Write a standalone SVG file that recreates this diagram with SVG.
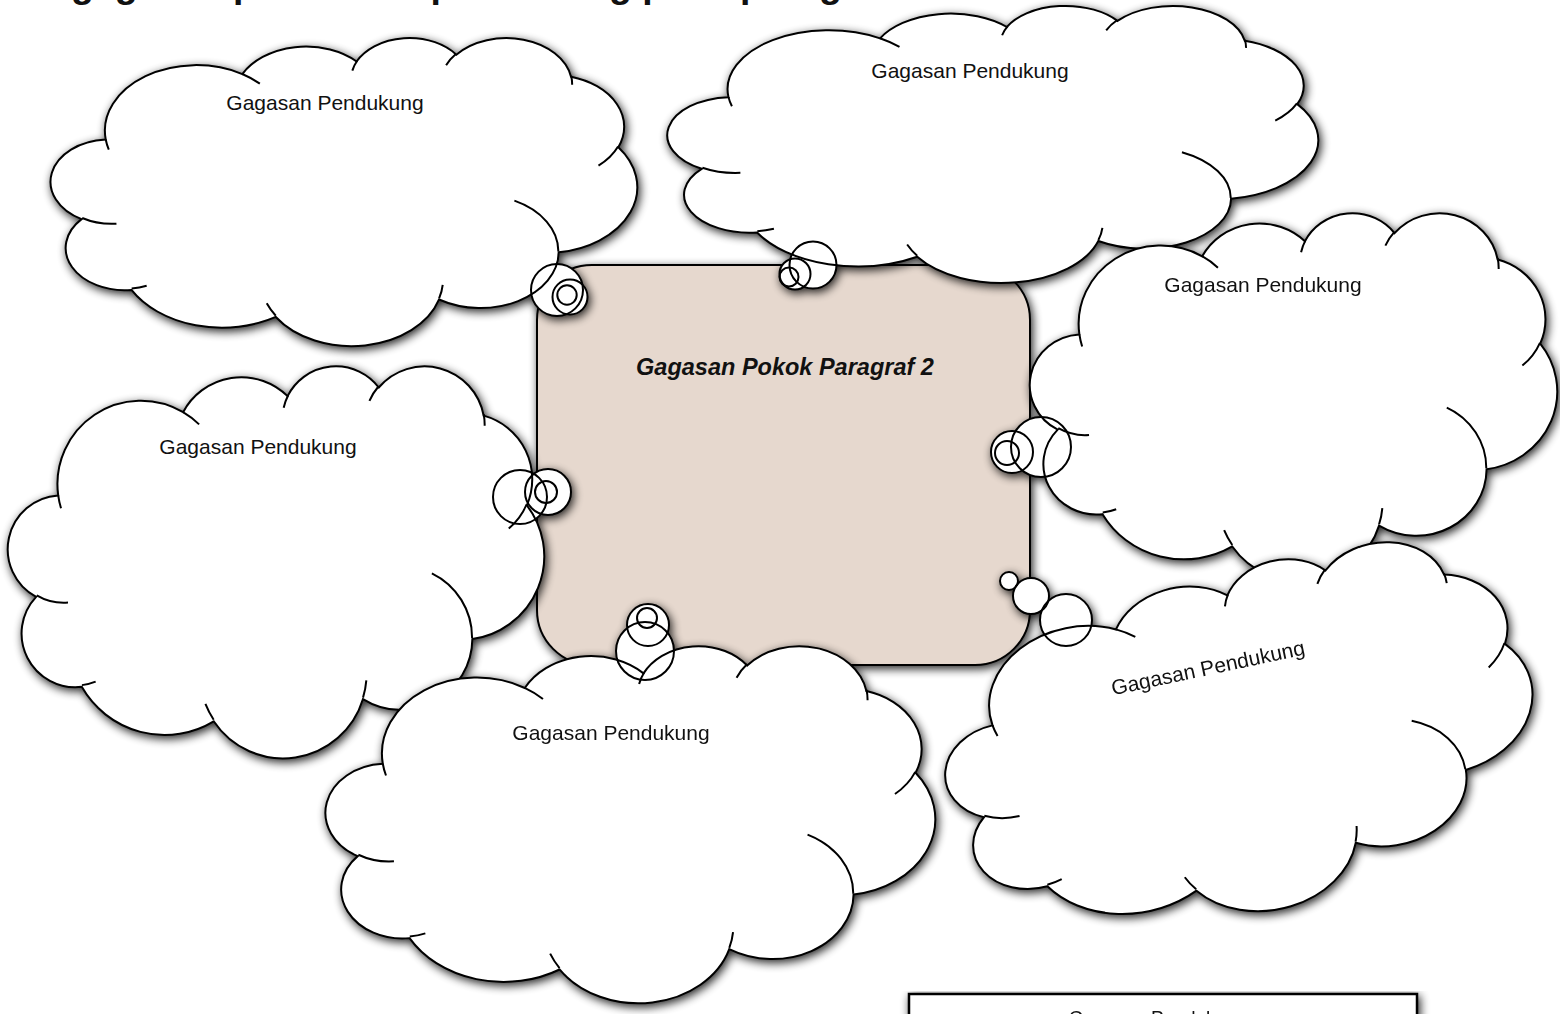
<svg xmlns="http://www.w3.org/2000/svg" xmlns:xlink="http://www.w3.org/1999/xlink" width="1560" height="1014" viewBox="0 0 1560 1014">
<style>
.lbl{font-family:"Liberation Sans",Arial,sans-serif;font-size:21px;fill:#111;text-anchor:middle}
.main{font-family:"Liberation Sans",Arial,sans-serif;font-size:23.5px;font-weight:bold;font-style:italic;fill:#111;text-anchor:middle}
.title{font-family:"Liberation Sans",Arial,sans-serif;font-size:37.4px;font-weight:bold;fill:#111}
.fo{fill:#fff;stroke:none}
.so{fill:none;stroke:#000;stroke-width:2}
</style>
<defs>
<filter id="sh" x="-15%" y="-15%" width="130%" height="130%">
<feGaussianBlur in="SourceAlpha" stdDeviation="5"/>
<feOffset dx="2" dy="3" result="b"/>
<feComponentTransfer><feFuncA type="linear" slope="0.85"/></feComponentTransfer>
<feMerge><feMergeNode/><feMergeNode in="SourceGraphic"/></feMerge>
</filter>
<path id="cl" vector-effect="non-scaling-stroke" d="M39,143.7 A67.53,91.9 0 0 1 140.05,52.02 A53.33,72.67 0 0 1 224.56,34.32 A43.65,59.45 0 0 1 298.33,24.81 A48.57,65.95 0 0 1 383.18,55.76 A53.33,72.73 0 0 1 418.18,154.6 A67.75,92.2 0 0 1 374.04,302.03 A57.85,78.67 0 0 1 285.56,368.13 A67.52,92.15 0 0 1 164.81,392.64 A77.2,105.43 0 0 1 58.05,354.7 A43.6,59.18 0 0 1 21.14,255.48 A43.45,59.45 0 0 1 39,143.7Z"/>
<path id="ci" vector-effect="non-scaling-stroke" d="M46.93,261.77 A43.45,59.45 0 0 1 21.6,253.8 M69.28,348.99 A43.6,59.18 0 0 1 58.2,352.8 M164.78,390.9 A67.52,92.15 0 0 1 158.1,373.5 M288.27,347.51 A67.52,92.15 0 0 1 285.6,366.6 M341.29,229.54 A57.85,78.67 0 0 1 373.8,300.9 M417.98,153.54 A53.33,72.73 0 0 1 403.5,180.3 M383.24,54.26 A48.57,65.95 0 0 1 384,66.9 M290.78,39.52 A48.57,65.95 0 0 1 298.2,23.41 M221.41,47.2 A43.65,59.45 0 0 1 225,33.3 M140,51.92 A67.53,91.9 0 0 1 153,65.41 M41.27,157.89 A67.53,91.9 0 0 1 39,143.7"/>
</defs>

<text class="title" x="71" y="-3">gagasan pokok dan pendukung pada paragraf</text>

<g id="connectors"></g>

<g id="main-node">
<rect x="537" y="265" width="493" height="400" rx="55" ry="55" fill="#e6d8ce" stroke="#000" stroke-width="2" filter="url(#sh)"/>
<text class="main" x="785" y="375">Gagasan Pokok Paragraf 2</text>
</g>

<g id="cloud-a">
<g filter="url(#sh)">
<use xlink:href="#cl" class="fo" transform="translate(53,37) scale(1.3519,0.7130)"/>
<g class="fo"><circle cx="557" cy="290" r="26"/><circle cx="570" cy="297" r="17.5"/><circle cx="567" cy="295" r="9.7"/></g>
<g class="so" transform="translate(53,37) scale(1.3519,0.7130)"><use xlink:href="#cl"/><use xlink:href="#ci"/></g>
<g class="so"><circle cx="557" cy="290" r="26"/><circle cx="570" cy="297" r="17.5"/><circle cx="567" cy="295" r="9.7"/></g>
</g>
<text class="lbl" x="325" y="110">Gagasan Pendukung</text>
</g>

<g id="cloud-d">
<g filter="url(#sh)">
<use xlink:href="#cl" class="fo" transform="translate(10,365) scale(1.2361,0.9074)"/>
<g class="fo"><circle cx="520" cy="497" r="27"/><circle cx="548" cy="492" r="23"/><circle cx="546" cy="492" r="11"/></g>
<g class="so" transform="translate(10,365) scale(1.2361,0.9074)"><use xlink:href="#cl"/><use xlink:href="#ci"/></g>
<g class="so"><circle cx="520" cy="497" r="27"/><circle cx="548" cy="492" r="23"/><circle cx="546" cy="492" r="11"/></g>
</g>
<text class="lbl" x="258" y="454">Gagasan Pendukung</text>
</g>

<g id="cloud-e">
<g filter="url(#sh)">
<use xlink:href="#cl" class="fo" transform="translate(328,645) scale(1.4051,0.8264)"/>
<g class="fo"><circle cx="645" cy="651" r="29"/><circle cx="648" cy="625" r="21"/><circle cx="647" cy="618" r="10"/></g>
<g class="so" transform="translate(328,645) scale(1.4051,0.8264)"><use xlink:href="#cl"/><use xlink:href="#ci"/></g>
<g class="so"><circle cx="645" cy="651" r="29"/><circle cx="648" cy="625" r="21"/><circle cx="647" cy="618" r="10"/></g>
</g>
<text class="lbl" x="611" y="740">Gagasan Pendukung</text>
</g>

<g id="cloud-b">
<g filter="url(#sh)">
<use xlink:href="#cl" class="fo" transform="translate(670,5) scale(1.5,0.6412)"/>
<g class="fo"><circle cx="813" cy="265" r="23.5"/><circle cx="795" cy="274" r="15.5"/><circle cx="789" cy="277" r="9.5"/></g>
<g class="so" transform="translate(670,5) scale(1.5,0.6412)"><use xlink:href="#cl"/><use xlink:href="#ci"/></g>
<g class="so"><circle cx="813" cy="265" r="23.5"/><circle cx="795" cy="274" r="15.5"/><circle cx="789" cy="277" r="9.5"/></g>
</g>
<text class="lbl" x="970" y="78">Gagasan Pendukung</text>
</g>

<g id="cloud-c">
<g filter="url(#sh)">
<use xlink:href="#cl" class="fo" transform="translate(1032,212) scale(1.2153,0.8519)"/>
<g class="fo"><circle cx="1041" cy="447" r="30"/><circle cx="1012" cy="452" r="21"/><circle cx="1007" cy="453" r="12"/></g>
<g class="so" transform="translate(1032,212) scale(1.2153,0.8519)"><use xlink:href="#cl"/><use xlink:href="#ci"/></g>
<g class="so"><circle cx="1041" cy="447" r="30"/><circle cx="1012" cy="452" r="21"/><circle cx="1007" cy="453" r="12"/></g>
</g>
<text class="lbl" x="1263" y="292">Gagasan Pendukung</text>
</g>

<g id="cloud-f">
<g filter="url(#sh)">
<use xlink:href="#cl" class="fo" transform="translate(1241,740) rotate(-10) translate(-295.5,-172) scale(1.3681,0.7963)"/>
<g class="fo"><circle cx="1009" cy="581" r="9"/><circle cx="1031" cy="596" r="18"/><circle cx="1066" cy="620" r="26"/></g>
<g class="so" transform="translate(1241,740) rotate(-10) translate(-295.5,-172) scale(1.3681,0.7963)"><use xlink:href="#cl"/><use xlink:href="#ci"/></g>
<g class="so"><circle cx="1009" cy="581" r="9"/><circle cx="1031" cy="596" r="18"/><circle cx="1066" cy="620" r="26"/></g>
</g>
<text class="lbl" transform="translate(1208,668) rotate(-12)" x="0" y="7">Gagasan Pendukung</text>
</g>

<g id="box-bottom">
<rect x="909" y="994" width="508" height="40" fill="#fff" stroke="#000" stroke-width="2.5" filter="url(#sh)"/>
<text class="lbl" x="1158" y="1024" style="font-size:19px">Gagasan Pendukung</text>
</g>
</svg>
